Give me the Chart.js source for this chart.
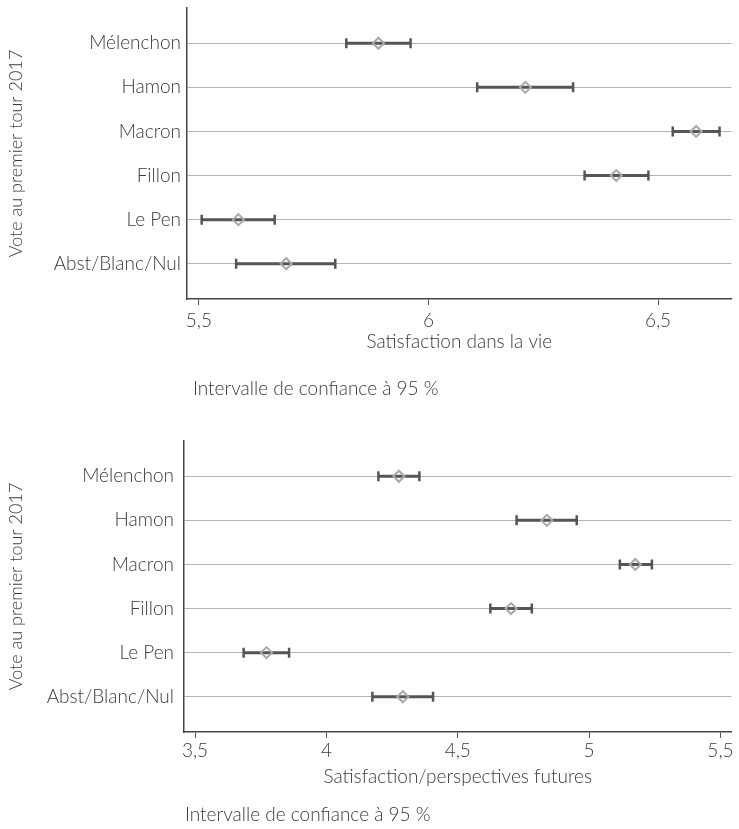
<!DOCTYPE html>
<html>
<head>
<meta charset="utf-8">
<script src="https://cdn.jsdelivr.net/npm/chart.js@4.4.1/dist/chart.umd.min.js"></script>
<style>
  body { margin: 0; background: #fff; }
  #wrap { position: relative; width: 739px; height: 829px; }
  canvas { position: absolute; left: 0; }
</style>
</head>
<body>
<div id="wrap">
  <canvas id="lifeChart" width="739" height="410" style="top:0"></canvas>
  <canvas id="futureChart" width="739" height="409" style="top:420px"></canvas>
</div>
<script>
// Vote au premier tour 2017
const categories = ['Mélenchon', 'Hamon', 'Macron', 'Fillon', 'Le Pen', 'Abst/Blanc/Nul'];

// Satisfaction dans la vie (moyenne + IC 95 %)
const lifeMean = [5.891, 6.211, 6.583, 6.409, 5.586, 5.690];
const lifeLow  = [5.821, 6.106, 6.532, 6.340, 5.506, 5.581];
const lifeHigh = [5.961, 6.315, 6.634, 6.479, 5.665, 5.797];
const lifeTicks = [5.5, 6, 6.5];

// Satisfaction/perspectives futures
const futureMean = [4.276, 4.839, 5.176, 4.703, 3.772, 4.291];
const futureLow  = [4.198, 4.724, 5.117, 4.624, 3.685, 4.175];
const futureHigh = [4.354, 4.953, 5.239, 4.782, 3.858, 4.406];
const futureTicks = [3.5, 4, 4.5, 5, 5.5];

const noteText = 'Intervalle de confiance à 95 %';
const textColor = '#3a3a3a';
const fontFamily = 'Lato, "Open Sans", sans-serif';

// footnote under each panel
const notePlugin = {
    id: 'note',
    afterDraw(chart, args, o) {
        const ctx = chart.ctx;
        ctx.save();
        ctx.font = '300 19px ' + fontFamily;
        ctx.fillStyle = textColor;
        ctx.textBaseline = 'middle';
        ctx.fillText(o.text, o.x, o.y);
        ctx.restore();
    }
};

function buildDatasets(mean, low, high) {
    // one small line per category for the interval, caps drawn as rotated 'line' points
    const bars = categories.map((c, i) => ({
        type: 'scatter',
        showLine: true,
        data: [{ x: low[i], y: i }, { x: high[i], y: i }],
        borderColor: '#555',
        borderWidth: 3,
        pointStyle: 'line',
        pointRotation: 90,
        pointRadius: 5,
        pointBorderWidth: 2.5,
        pointBorderColor: '#555',
        order: 2
    }));
    const points = {
        type: 'scatter',
        data: mean.map((v, i) => ({ x: v, y: i })),
        pointStyle: 'rectRot',
        pointRadius: 5.5,
        pointBorderWidth: 2,
        pointBorderColor: '#a8a8a8',
        pointBackgroundColor: 'rgba(255,255,255,0)',
        order: 1
    };
    return bars.concat([points]);
}

function makeChart(id, opts) {
    const ctx = document.getElementById(id).getContext('2d');
    return new Chart(ctx, {
        type: 'scatter',
        data: { datasets: buildDatasets(opts.mean, opts.low, opts.high) },
        plugins: [notePlugin],
        options: {
            responsive: false,
            animation: false,
            events: [],
            layout: { padding: { top: opts.padTop, right: opts.padRight, left: 0, bottom: opts.padBottom } },
            plugins: {
                legend: { display: false },
                tooltip: { enabled: false },
                note: { text: noteText, x: opts.noteX, y: opts.noteY }
            },
            scales: {
                x: {
                    type: 'linear',
                    min: opts.xMin,
                    max: opts.xMax,
                    afterBuildTicks: s => { s.ticks = opts.ticks.map(v => ({ value: v })); },
                    afterFit: s => { s.height = opts.xHeight; s.paddingLeft = 0; s.paddingRight = 0; },
                    grid: { drawOnChartArea: false, drawTicks: true, tickLength: 6, color: '#555', lineWidth: 1 },
                    border: { display: true, color: '#444', width: 1.5 },
                    ticks: {
                        color: textColor,
                        padding: opts.tickPad,
                        maxRotation: 0,
                        font: { family: fontFamily, size: 19, weight: 300, lineHeight: 1.2 },
                        callback: v => String(v).replace('.', ',')
                    },
                    title: {
                        display: true,
                        text: opts.xTitle,
                        color: textColor,
                        padding: { top: 0, bottom: opts.titlePad },
                        font: { family: fontFamily, size: 19, weight: 300, lineHeight: 1.2 }
                    }
                },
                y: {
                    type: 'linear',
                    reverse: true,
                    min: -0.8,
                    max: 5.8,
                    afterBuildTicks: s => { s.ticks = categories.map((c, i) => ({ value: i })); },
                    afterFit: s => { s.width = opts.yWidth; s.paddingTop = 0; s.paddingBottom = 0; },
                    grid: { drawTicks: false, color: '#b3b3b3', lineWidth: 1 },
                    border: { display: true, color: '#444', width: 1.5 },
                    ticks: {
                        color: textColor,
                        padding: opts.yTickPad,
                        font: { family: fontFamily, size: 19, weight: 300 },
                        callback: v => categories[v]
                    },
                    title: {
                        display: true,
                        text: 'Vote au premier tour 2017',
                        color: textColor,
                        padding: { top: 5, bottom: 0 },
                        font: { family: fontFamily, size: 18, weight: 300, lineHeight: 1.2 }
                    }
                }
            }
        }
    });
}

makeChart('lifeChart', {
    mean: lifeMean, low: lifeLow, high: lifeHigh, ticks: lifeTicks,
    xMin: 5.474, xMax: 6.66, xTitle: 'Satisfaction dans la vie',
    padTop: 8, padRight: 1, padBottom: 50, xHeight: 61, tickPad: 4, titlePad: 7,
    yWidth: 187, yTickPad: 6, noteX: 193, noteY: 389
});

makeChart('futureChart', {
    mean: futureMean, low: futureLow, high: futureHigh, ticks: futureTicks,
    xMin: 3.458, xMax: 5.542, xTitle: 'Satisfaction/perspectives futures',
    padTop: 21, padRight: 6, padBottom: 29, xHeight: 68, tickPad: 1, titlePad: 12,
    yWidth: 184, yTickPad: 10, noteX: 185, noteY: 395
});
</script>
</body>
</html>
